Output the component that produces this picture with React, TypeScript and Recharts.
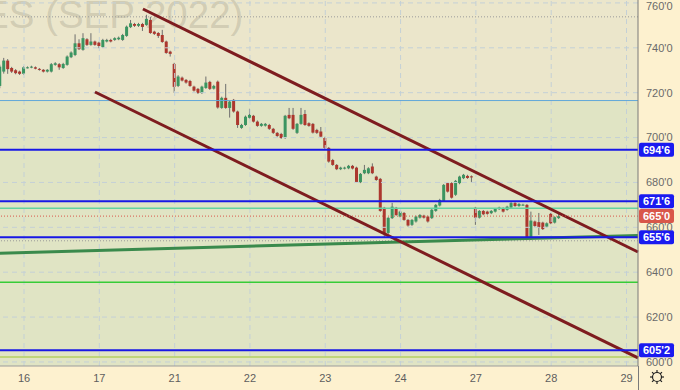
import {
  Bar,
  ComposedChart,
  ReferenceArea,
  ReferenceLine,
  XAxis,
  YAxis,
} from "recharts";

// 2h-ish bars, index 0 = first bar of the 16th
const firstBar = -6;
const opens = [
  723.0, 729.4, 734.3, 731.0, 730.0, 729.4,
  728.4, 731.2, 731.2, 731.3, 730.6, 730.2, 729.4, 729.4, 732.4, 732.7, 731.0, 732.4, 735.8, 736.8, 742.0, 739.1, 743.8, 741.3, 742.8,
  742.3, 740.3, 742.8, 743.5, 743.5, 743.8, 743.5, 745.3, 749.2, 750.6, 749.8, 750.6, 750.2, 752.4, 747.2, 746.6, 745.7, 742.8, 738.3,
  732.8, 723.0, 726.7, 725.7, 725.2, 722.7, 721.7, 719.9, 722.1, 724.8, 721.8, 724.9, 713.2, 717.7, 713.2, 716.8, 711.6, 704.3, 705.6,
  708.8, 709.7, 707.1, 705.2, 705.3, 705.6, 703.9, 702.1, 701.6, 699.8, 710.1, 710.1, 702.1, 706.1, 710.5, 706.4, 706.1, 703.4, 702.7,
  699.8, 695.4, 690.0, 687.8, 685.9, 686.2, 686.3, 687.4, 686.6, 680.1, 684.1, 684.1, 687.1, 682.6, 681.6, 668.7, 657.5, 664.1, 668.7,
  664.8, 666.4, 663.3, 661.1, 662.6, 664.3, 665.2, 664.8, 664.1, 667.3, 669.7, 671.8, 679.7, 679.7, 674.5, 679.7, 681.9, 682.9, 682.7,
  668.7, 664.3, 667.3, 667.0, 666.3, 667.0, 668.1, 668.5, 667.8, 668.8, 670.8, 669.5, 670.0, 670.0, 654.7, 662.6, 662.3, 662.1, 660.3,
  666.0, 662.1, 664.1,
];
const highs = [
  732.5, 735.5, 735.0, 731.5, 730.5, 729.8,
  731.8, 731.7, 732.0, 731.7, 731.0, 730.5, 730.5, 733.2, 733.6, 733.2, 733.3, 736.6, 738.4, 746.0, 743.8, 746.5, 744.3, 746.5, 743.2,
  742.7, 744.0, 744.0, 744.0, 744.7, 745.0, 746.2, 749.9, 752.4, 751.1, 751.1, 751.1, 754.7, 753.8, 747.6, 747.0, 748.0, 743.2, 738.7,
  733.3, 727.8, 727.2, 726.1, 725.7, 723.1, 722.1, 723.1, 727.2, 725.3, 723.5, 725.4, 718.2, 723.9, 716.5, 717.2, 712.0, 706.1, 709.8,
  712.8, 710.1, 707.6, 706.5, 706.5, 706.1, 704.3, 702.5, 702.1, 710.1, 713.2, 713.2, 706.5, 713.2, 712.3, 706.8, 706.5, 703.9, 704.7,
  700.3, 695.8, 690.5, 688.2, 687.0, 687.0, 687.8, 687.8, 687.0, 684.2, 687.8, 686.8, 688.5, 683.0, 682.0, 669.1, 664.6, 670.9, 669.1,
  667.4, 666.8, 663.7, 663.7, 665.2, 665.9, 665.6, 665.2, 668.2, 670.4, 672.7, 679.3, 680.1, 680.1, 681.1, 683.0, 683.8, 683.4, 683.1,
  669.1, 667.7, 667.7, 667.4, 667.7, 668.6, 669.2, 668.9, 669.6, 671.2, 671.2, 670.8, 670.5, 670.4, 667.0, 663.0, 666.4, 662.5, 662.2,
  666.4, 664.9, 666.0,
];
const lows = [
  722.0, 728.5, 728.4, 728.8, 728.2, 727.9,
  728.0, 730.8, 730.9, 730.4, 729.8, 729.0, 729.0, 729.0, 732.0, 730.2, 730.6, 732.0, 735.4, 736.3, 739.0, 738.7, 740.8, 740.9, 740.9,
  739.8, 739.9, 742.4, 742.4, 743.1, 743.4, 743.1, 744.9, 748.8, 749.3, 749.3, 747.5, 749.8, 746.2, 745.7, 744.4, 742.2, 737.3, 736.1,
  719.9, 722.5, 725.0, 724.0, 722.6, 720.5, 719.4, 719.4, 721.7, 721.2, 721.4, 712.9, 712.8, 712.8, 708.9, 711.1, 704.3, 703.9, 705.2,
  708.3, 706.7, 704.8, 704.8, 704.9, 703.4, 701.6, 700.3, 699.4, 699.4, 708.2, 703.4, 701.6, 705.7, 705.2, 704.8, 701.8, 701.6, 700.0,
  694.9, 688.8, 687.4, 685.5, 685.5, 685.8, 685.9, 685.8, 679.8, 679.7, 683.7, 683.7, 683.7, 680.7, 666.9, 655.7, 657.0, 663.7, 665.1,
  664.4, 662.9, 660.3, 660.6, 662.1, 663.9, 663.9, 662.1, 663.7, 666.9, 669.3, 671.3, 675.5, 672.8, 674.0, 679.2, 681.5, 681.6, 680.0,
  661.1, 663.9, 665.4, 665.6, 665.9, 666.6, 667.7, 666.6, 667.4, 668.4, 669.1, 669.1, 669.6, 654.3, 654.3, 660.2, 656.6, 658.8, 659.9,
  661.4, 661.7, 663.7,
];
const closes = [
  731.6, 734.3, 730.5, 729.4, 728.7, 728.4,
  731.3, 731.3, 731.6, 730.7, 730.2, 729.4, 730.2, 732.7, 733.1, 731.3, 732.8, 736.1, 737.9, 742.0, 739.4, 744.3, 741.3, 742.8, 741.3,
  740.8, 743.5, 743.5, 742.8, 744.3, 744.5, 745.7, 749.4, 750.9, 749.8, 750.6, 749.3, 752.9, 746.6, 746.2, 745.3, 742.6, 737.7, 737.3,
  722.6, 727.2, 725.4, 724.5, 723.0, 720.9, 719.9, 722.7, 724.5, 721.7, 723.0, 713.4, 717.7, 713.2, 716.0, 711.6, 705.6, 705.6, 709.3,
  710.1, 707.1, 705.2, 706.1, 706.1, 703.9, 702.1, 700.7, 699.8, 709.7, 708.6, 703.9, 706.1, 710.1, 705.6, 705.2, 702.2, 702.1, 700.4,
  695.4, 689.3, 687.8, 685.9, 686.6, 686.6, 687.4, 686.2, 680.2, 683.8, 685.6, 686.3, 684.1, 681.1, 667.3, 657.5, 664.2, 669.2, 665.5,
  667.0, 663.3, 660.8, 663.3, 664.8, 665.5, 664.3, 662.6, 667.8, 670.0, 672.2, 678.9, 675.9, 673.2, 680.7, 682.6, 683.4, 682.0, 682.6,
  664.3, 667.3, 665.8, 666.0, 667.3, 668.2, 668.8, 667.0, 669.2, 670.8, 669.5, 670.4, 670.1, 654.7, 663.0, 660.6, 660.1, 659.2, 661.8,
  661.8, 664.5, 665.0,
];

const dayTicks = [0, 19, 38, 57, 76, 95, 114, 133, 152];
const dayLabels = ["16", "17", "21", "22", "23", "24", "27", "28", "29"];
const priceTicks = [600, 620, 640, 660, 680, 700, 720, 740, 760];

const blueLevels = [694.6, 671.6, 655.6, 605.2];
const lastPrice = 665.0;
const zoneSplit = 716.5;
const dottedTop = 753.8;
const dottedLow = 654.0;
const mintLevel = 668.5;
const limeLevel = 635.5;
const oliveLevel = 602.2;

const upperChannel = [
  { x: 30, y: 757.3 },
  { x: 154.9, y: 649.0 },
];
const lowerChannel = [
  { x: 17.9, y: 720.3 },
  { x: 154.9, y: 601.8 },
];
const greenTrend = [
  { x: -6.06, y: 648.5 },
  { x: 154.9, y: 656.4 },
];

const xDomain = [-6.06, 154.9];
const yDomain = [598.2, 761.3];

const data = opens.map((open, i) => ({
  k: firstBar + i,
  open,
  high: highs[i],
  low: lows[i],
  close: closes[i],
}));

const fmtPrice = (v: number) => {
  const whole = Math.floor(v + 1e-6);
  const frac = Math.round((v - whole) * 10);
  return `${whole}'${frac}`;
};

function Candle(props: any) {
  const { x, y, width, height, payload } = props;
  if (!payload) return null;
  const { open, close, high, low } = payload;
  const top = Math.min(y, y + height);
  const h = Math.abs(height);
  const span = high - low || 1;
  const py = (v: number) => top + ((high - v) / span) * h;
  const cx = x + width / 2;
  const up = close >= open;
  const bTop = py(Math.max(open, close));
  const bBot = py(Math.min(open, close));
  return (
    <g>
      <line x1={cx} x2={cx} y1={top} y2={top + h} stroke="#6e6e6e" strokeWidth={1} />
      <rect
        x={cx - 1.5}
        y={bTop}
        width={3}
        height={Math.max(1, bBot - bTop)}
        fill={up ? "#3b9561" : "#ac372e"}
      />
    </g>
  );
}

const badge = (text: string, fill: string) => (props: any) => {
  const vb = props.viewBox || {};
  const x = (vb.x ?? 0) + (vb.width ?? 0);
  const y = vb.y ?? 0;
  return (
    <g>
      <rect x={x + 1} y={y - 7} width={35} height={14} rx={2} fill={fill} />
      <text
        x={x + 18.5}
        y={y}
        dy="0.36em"
        textAnchor="middle"
        fill="#ffffff"
        fontSize={11}
        fontFamily="Liberation Sans, Arial, sans-serif"
        fontWeight="bold"
      >
        {text}
      </text>
    </g>
  );
};

const watermark = (props: any) => {
  const vb = props.viewBox || {};
  return (
    <text
      x={(vb.x ?? 0) - 17}
      y={(vb.y ?? 0) + 28}
      fontSize={38.5}
      fontFamily="Liberation Sans, Arial, sans-serif"
      fill="#8a8570"
      fillOpacity={0.27}
    >
      ES (SEP 2022)
    </text>
  );
};

export default function App() {
  return (
    <div style={{ position: "absolute", left: 0, top: 0, width: 680, height: 390, background: "#fdf1cf" }}>
      <ComposedChart
        width={680}
        height={390}
        data={data}
        margin={{ top: 0, right: 0, bottom: 0, left: 0 }}
      >
        <XAxis
          dataKey="k"
          type="number"
          domain={xDomain}
          allowDataOverflow
          ticks={dayTicks}
          tickFormatter={(v: number) => dayLabels[dayTicks.indexOf(v)] ?? ""}
          tickLine={false}
          axisLine={{ stroke: "#9c9c9c" }}
          height={24}
          tick={{ fontSize: 11, fill: "#5e5e5e", fontFamily: "Liberation Sans, Arial, sans-serif" }}
        />
        <YAxis
          orientation="right"
          type="number"
          domain={yDomain}
          allowDataOverflow
          ticks={priceTicks}
          tickFormatter={fmtPrice}
          tickLine={false}
          axisLine={{ stroke: "#7a7a7a" }}
          width={42}
          tick={{ fontSize: 11, fill: "#6a6a6a", fontFamily: "Liberation Sans, Arial, sans-serif" }}
        />

        <ReferenceArea y1={zoneSplit} y2={yDomain[1]} fill="#ebe6cb" fillOpacity={1} stroke="none" label={watermark} />
        <ReferenceArea y1={yDomain[0]} y2={zoneSplit} fill="#e0e4c4" fillOpacity={1} stroke="none" />

        {dayTicks.map((t) => (
          <ReferenceLine key={"vx" + t} x={t} stroke="#c4d0d6" strokeDasharray="5 4" />
        ))}
        {priceTicks.map((t) => (
          <ReferenceLine key={"hy" + t} y={t} stroke="#c4d0d6" strokeDasharray="5 4" />
        ))}

        <ReferenceLine y={dottedTop} stroke="#9a9a9a" strokeDasharray="1 2" />
        <ReferenceLine y={zoneSplit} stroke="#62a8d8" strokeWidth={1} />
        <ReferenceLine y={mintLevel} stroke="#62d3a2" strokeWidth={1.5} />
        <ReferenceLine y={dottedLow} stroke="#9a9a9a" strokeDasharray="1 2" />
        <ReferenceLine y={limeLevel} stroke="#37cc37" strokeWidth={1.5} />
        <ReferenceLine y={oliveLevel} stroke="#b4cf62" strokeWidth={1.5} />
        <ReferenceLine segment={greenTrend} stroke="#3a8a4c" strokeWidth={3} ifOverflow="visible" />

        <Bar
          dataKey={(d: any) => [d.low, d.high]}
          shape={Candle}
          barSize={3}
          isAnimationActive={false}
        />

        <ReferenceLine segment={upperChannel} stroke="#7e1c1f" strokeWidth={3} ifOverflow="visible" />
        <ReferenceLine segment={lowerChannel} stroke="#7e1c1f" strokeWidth={3} ifOverflow="visible" />

        <ReferenceLine y={lastPrice} stroke="#d9574a" strokeDasharray="1 2" label={badge(fmtPrice(lastPrice), "#d9574a")} />
        {blueLevels.map((v) => (
          <ReferenceLine key={"b" + v} y={v} stroke="#1818e6" strokeWidth={2} label={badge(fmtPrice(v), "#1a1af0")} />
        ))}
      </ComposedChart>
      <svg
        width={680}
        height={390}
        style={{ position: "absolute", left: 0, top: 0, pointerEvents: "none" }}
      >
        <line x1={638.5} x2={638.5} y1={366} y2={390} stroke="#7a7a7a" />
        <g transform="translate(657,377)" stroke="#222" fill="none" strokeWidth={1.2}>
          <circle r={4.5} />
          {[0, 45, 90, 135, 180, 225, 270, 315].map((a) => (
            <line
              key={a}
              x1={4.5 * Math.cos((a * Math.PI) / 180)}
              y1={4.5 * Math.sin((a * Math.PI) / 180)}
              x2={7 * Math.cos((a * Math.PI) / 180)}
              y2={7 * Math.sin((a * Math.PI) / 180)}
            />
          ))}
        </g>
      </svg>
    </div>
  );
}
